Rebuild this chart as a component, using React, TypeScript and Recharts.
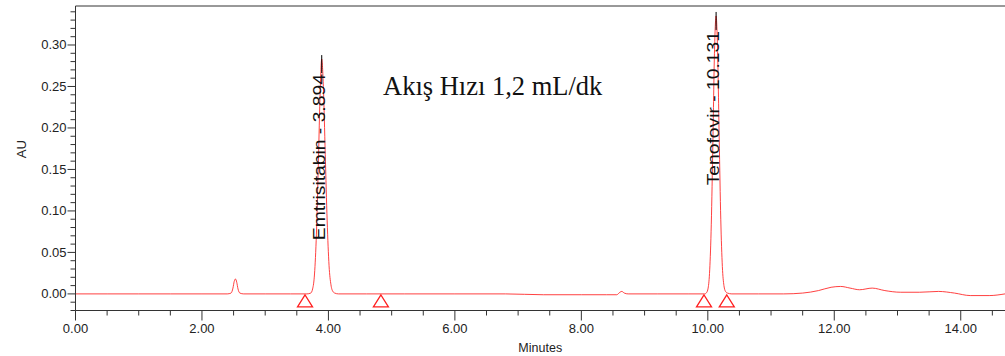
import React from "react";
import { ComposedChart, Line, Scatter, XAxis, YAxis, ReferenceLine, Label } from "recharts";

// retention time (min) and detector response (AU)
const times = [
  0, 0.5, 1, 1.5, 2, 2.4, 2.46, 2.49, 2.51, 2.53, 2.55, 2.57, 2.6, 2.66, 3, 3.4,
  3.66, 3.72, 3.75, 3.78, 3.81, 3.84, 3.87, 3.894, 3.92, 3.95, 3.98, 4.01, 4.04, 4.07, 4.1, 4.16,
  4.6, 5.2, 6, 6.8, 7.4, 8, 8.4, 8.56, 8.61, 8.64, 8.68, 8.74, 9.2, 9.7,
  9.95, 9.98, 10.005, 10.03, 10.055, 10.08, 10.105, 10.131, 10.155, 10.18, 10.205, 10.23, 10.255, 10.28, 10.31, 10.38,
  10.8, 11.2, 11.5, 11.75, 11.95, 12.1, 12.25, 12.4, 12.6, 12.8, 13.05, 13.35, 13.65, 13.9, 14.15, 14.45, 14.7,
];
const absorbance = [
  0, 0, 0, 0, 0, 0, 0.001, 0.007, 0.015, 0.018, 0.014, 0.006, 0.001, 0, 0, 0,
  0, 0.001, 0.006, 0.024, 0.072, 0.155, 0.245, 0.283, 0.25, 0.168, 0.088, 0.034, 0.011, 0.003, 0.001, 0,
  0, 0, 0, 0, -0.001, -0.001, -0.001, -0.001, 0.002, 0.003, 0.001, 0, 0, 0,
  0, 0.0015, 0.007, 0.029, 0.084, 0.182, 0.29, 0.335, 0.292, 0.188, 0.09, 0.033, 0.01, 0.003, 0.001, 0,
  0, 0, 0.001, 0.004, 0.008, 0.009, 0.007, 0.005, 0.007, 0.004, 0.002, 0.002, 0.003, 0.001, -0.002, -0.002, 0,
];

const peakNames = ["Emtrisitabin", "Tenofovir"];
const peakTimes = [3.894, 10.131];
const peakHeights = [0.283, 0.335];

// integration start/end markers
const markTimes = [3.63, 4.83, 9.94, 10.3];

const xTicks = [0, 0.5, 1, 1.5, 2, 2.5, 3, 3.5, 4, 4.5, 5, 5.5, 6, 6.5, 7, 7.5, 8, 8.5, 9, 9.5, 10, 10.5, 11, 11.5, 12, 12.5, 13, 13.5, 14, 14.5];
const xLabels = [0, 2, 4, 6, 8, 10, 12, 14];
const yTicks = [
  -0.02, -0.01, 0, 0.01, 0.02, 0.03, 0.04, 0.05, 0.06, 0.07, 0.08, 0.09, 0.1, 0.11, 0.12, 0.13, 0.14, 0.15, 0.16,
  0.17, 0.18, 0.19, 0.2, 0.21, 0.22, 0.23, 0.24, 0.25, 0.26, 0.27, 0.28, 0.29, 0.3, 0.31, 0.32, 0.33, 0.34,
];
const yLabels = [0, 0.05, 0.1, 0.15, 0.2, 0.25, 0.3];

const trace = times.map((t, i) => ({ t, au: absorbance[i] }));
const peaks = peakTimes.map((t, i) => ({ t, au: peakHeights[i], name: peakNames[i] }));
const marks = markTimes.map((t) => ({ t, au: 0 }));

const axisColor = "#333";
const font = "'Liberation Sans', Arial, sans-serif";

const isLabel = (list: number[], v: number) => list.some((l) => Math.abs(l - v) < 1e-6);

function XTick({ x, y, payload }: any) {
  const major = isLabel(xLabels, payload.value);
  return (
    <g>
      <line x1={x} x2={x} y1={y} y2={y + (major ? 10 : 5)} stroke={axisColor} />
      {major && (
        <text x={x} y={y + 22} textAnchor="middle" fontSize={13} fontFamily={font} fill="#222">
          {payload.value.toFixed(2)}
        </text>
      )}
    </g>
  );
}

function YTick({ x, y, payload }: any) {
  const major = isLabel(yLabels, payload.value);
  return (
    <g>
      <line x1={x - (major ? 8 : 5)} x2={x} y1={y} y2={y} stroke={axisColor} />
      {major && (
        <text x={x - 9} y={y + 4.5} textAnchor="end" fontSize={13} fontFamily={font} fill="#222">
          {payload.value.toFixed(2)}
        </text>
      )}
    </g>
  );
}

// peak name, drawn upward from just under the apex marker
function PeakLabel({ cx, cy, payload }: any) {
  return (
    <g>
      <line x1={cx} x2={cx} y1={cy - 4} y2={cy + 14} stroke="#000" />
      <text
        transform={`translate(${cx + 3},${cy + 15}) rotate(-90) scale(1.17,1)`}
        textAnchor="end"
        fontSize={16.5}
        fontFamily={font}
        fill="#111"
      >
        {`${payload.name} - ${payload.t.toFixed(3)}`}
      </text>
    </g>
  );
}

function Mark({ cx, cy }: any) {
  return (
    <polygon
      points={`${cx},${cy + 1} ${cx - 7.5},${cy + 13} ${cx + 7.5},${cy + 13}`}
      fill="none"
      stroke="#ff2020"
      strokeWidth={1.3}
    />
  );
}

export default function App() {
  return (
    <div style={{ position: "absolute", left: 0, top: 0, width: 1005, height: 356, background: "#fff" }}>
      <ComposedChart width={1005} height={356} margin={{ top: 6, right: 0, bottom: 0, left: 0 }}>
        <XAxis
          dataKey="t"
          type="number"
          domain={[0, 14.7]}
          allowDataOverflow
          ticks={xTicks}
          interval={0}
          tick={<XTick />}
          tickLine={false}
          tickSize={0}
          tickMargin={0}
          height={45.5}
          stroke={axisColor}
        >
          <Label value="Minutes" position="insideBottom" offset={4} fontSize={12.5} fontFamily={font} fill="#222" />
        </XAxis>
        <YAxis
          type="number"
          domain={[-0.02, 0.347]}
          allowDataOverflow
          ticks={yTicks}
          interval={0}
          tick={<YTick />}
          tickLine={false}
          tickSize={0}
          tickMargin={0}
          width={75.5}
          stroke={axisColor}
        >
          <Label value="AU" angle={-90} position="insideLeft" offset={21} fontSize={13} fontFamily={font} fill="#222" />
        </YAxis>
        <ReferenceLine y={0.347} stroke={axisColor} />
        <Line
          data={trace}
          dataKey="au"
          type="monotone"
          stroke="#ff2020"
          strokeOpacity={0.85}
          strokeWidth={1}
          dot={false}
          activeDot={false}
          isAnimationActive={false}
        />
        <Scatter data={marks} dataKey="au" shape={<Mark />} isAnimationActive={false} />
        <Scatter data={peaks} dataKey="au" shape={<PeakLabel />} isAnimationActive={false} />
      </ComposedChart>
      <div
        style={{
          position: "absolute",
          left: 383,
          top: 70,
          fontFamily: "'Liberation Serif', 'Times New Roman', serif",
          fontSize: 26.5,
          lineHeight: "32px",
          color: "#111",
          whiteSpace: "nowrap",
        }}
      >
        Akış Hızı 1,2 mL/dk
      </div>
    </div>
  );
}
